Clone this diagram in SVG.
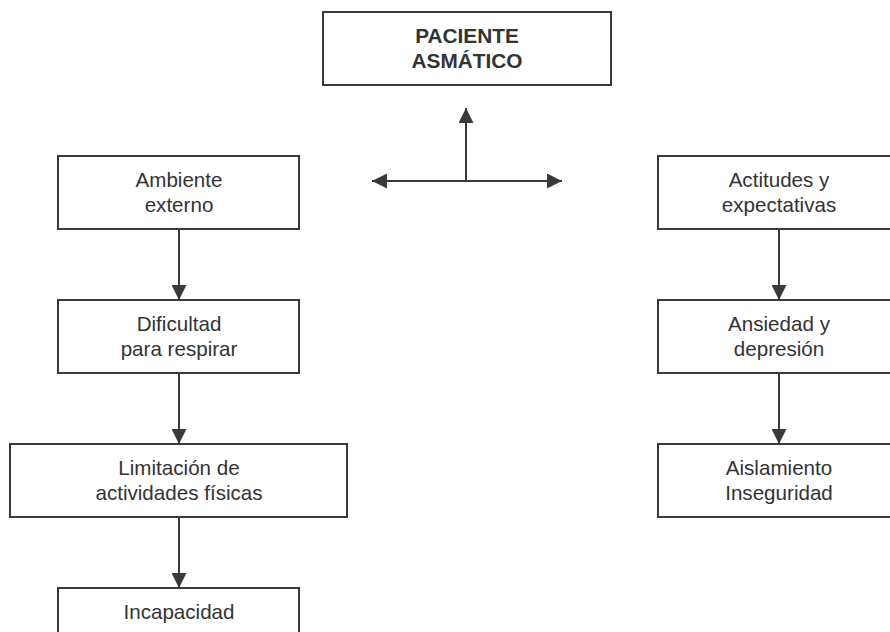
<svg xmlns="http://www.w3.org/2000/svg" width="890" height="632" viewBox="0 0 890 632">
<style>
.box{fill:#fff;stroke:#3a3a3c;stroke-width:2}
.t{font-family:"Liberation Sans",Arial,sans-serif;font-size:20.6px;fill:#333;text-anchor:middle}
.b{font-weight:bold;font-size:20.8px}
.c{stroke:#3a3a3c;stroke-width:2;fill:none;marker-end:url(#ah)}
</style>
<defs>
<marker id="ah" viewBox="0 0 15 15" refX="15" refY="7.5" markerWidth="15" markerHeight="15" markerUnits="userSpaceOnUse" orient="auto-start-reverse">
<path d="M0,0 L15,7.5 L0,15 z" fill="#3a3a3c"/>
</marker>
</defs>
<rect width="890" height="632" fill="#fff"/>
<g id="paciente">
<rect class="box" x="323" y="12" width="288" height="73"/>
<text class="t b" x="467" y="43">PACIENTE</text>
<text class="t b" x="467" y="68">ASMÁTICO</text>
</g>
<g id="ambiente">
<rect class="box" x="58" y="156" width="241" height="73"/>
<text class="t" x="179" y="187">Ambiente</text>
<text class="t" x="179" y="212">externo</text>
</g>
<g id="dificultad">
<rect class="box" x="58" y="300" width="241" height="73"/>
<text class="t" x="179" y="331">Dificultad</text>
<text class="t" x="179" y="356">para respirar</text>
</g>
<g id="limitacion">
<rect class="box" x="10" y="444" width="337" height="73"/>
<text class="t" x="179" y="475">Limitación de</text>
<text class="t" x="179" y="500">actividades físicas</text>
</g>
<g id="incapacidad">
<rect class="box" x="58" y="588" width="241" height="73"/>
<text class="t" x="179" y="619">Incapacidad</text>
</g>
<g id="actitudes">
<rect class="box" x="658" y="156" width="242" height="73"/>
<text class="t" x="779" y="187">Actitudes y</text>
<text class="t" x="779" y="212">expectativas</text>
</g>
<g id="ansiedad">
<rect class="box" x="658" y="300" width="242" height="73"/>
<text class="t" x="779" y="331">Ansiedad y</text>
<text class="t" x="779" y="356">depresión</text>
</g>
<g id="aislamiento">
<rect class="box" x="658" y="444" width="242" height="73"/>
<text class="t" x="779" y="475">Aislamiento</text>
<text class="t" x="779" y="500">Inseguridad</text>
</g>
<g id="connectors">
<line class="c" x1="466" y1="181" x2="466" y2="108"/>
<line class="c" x1="372" y1="181" x2="562" y2="181" style="marker-start:url(#ah)"/>
<line class="c" x1="179" y1="229" x2="179" y2="300"/>
<line class="c" x1="179" y1="373" x2="179" y2="444"/>
<line class="c" x1="179" y1="517" x2="179" y2="588"/>
<line class="c" x1="779" y1="229" x2="779" y2="300"/>
<line class="c" x1="779" y1="373" x2="779" y2="444"/>
</g>
</svg>
